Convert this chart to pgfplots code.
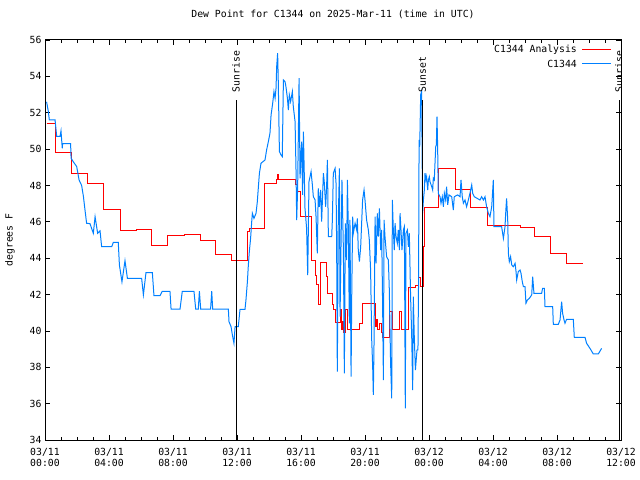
\documentclass[border=0pt]{standalone}
\usepackage{fontspec}
\setmainfont{DejaVu Sans Mono}
\usepackage{pgfplots}
\pgfplotsset{compat=1.18}
\definecolor{cblue}{RGB}{0,128,255}
\definecolor{cred}{RGB}{255,0,0}
\begin{document}
\begin{tikzpicture}[font=\fontsize{9.8bp}{11bp}\selectfont]
\path[use as bounding box] (0,0) rectangle (640bp,480bp);
\begin{axis}[
  at={(45bp,40bp)}, anchor=south west,
  width=576bp, height=400bp, scale only axis,
  xmin=0, xmax=36, ymin=34, ymax=56,
  xtick={0,4,...,36},
  xticklabels={03/11\\00:00,03/11\\04:00,03/11\\08:00,03/11\\12:00,03/11\\16:00,03/11\\20:00,03/12\\00:00,03/12\\04:00,03/12\\08:00,03/12\\12:00},
  xticklabel style={align=center, font=\fontsize{9.8bp}{11bp}\selectfont, yshift=-5bp},
  minor xtick={1,2,3,5,6,7,9,10,11,13,14,15,17,18,19,21,22,23,25,26,27,29,30,31,33,34,35},
  ytick={34,36,...,56},
  tick align=inside,
  major tick length=5bp, minor tick length=3bp,
  tick style={black, line width=0.8bp},
  axis line style={line width=1bp},
  /pgf/number format/assume math mode=true,
  title={Dew Point for C1344 on 2025-Mar-11 (time in UTC)},
  title style={at={(0.5,1)}, anchor=base, yshift=17bp},
  ylabel={degrees F},
  ylabel style={at={(axis description cs:-0.0608,0.5)}, anchor=center},
]
\addplot[draw=cred, line width=1bp, const plot] coordinates {
(0.10,51.42) (0.67,49.82) (1.67,48.67) (2.67,48.12) (3.65,46.70) (4.69,45.50)
(5.69,45.55) (6.67,44.70) (7.67,45.26) (8.69,45.30) (9.69,44.97) (10.67,44.21)
(11.65,43.85) (12.68,45.46) (12.81,45.64) (13.69,48.12) (14.44,48.34) (14.50,48.58)
(14.60,48.34) (15.67,48.03) (15.75,47.66) (15.94,46.28) (16.68,43.85) (16.90,43.02)
(16.98,42.53) (17.08,41.43) (17.19,43.77) (17.60,42.98) (17.68,42.03) (17.98,41.43)
(18.05,41.15) (18.15,40.46) (18.44,41.15) (18.52,40.05) (18.60,40.51) (18.68,39.90)
(18.78,41.15) (18.90,40.05) (19.68,40.42) (19.85,41.52) (20.65,40.23) (20.72,40.60)
(20.80,40.05) (20.90,40.40) (21.00,39.90) (21.10,39.63) (21.55,41.06) (21.73,40.10)
(22.15,41.06) (22.25,40.10) (22.70,42.38) (23.15,42.50) (23.35,42.93) (23.45,42.45)
(23.66,44.63) (23.72,46.79) (24.60,48.94) (25.67,47.75) (26.60,46.80) (27.65,45.77)
(29.70,45.70) (30.60,45.18) (31.60,44.27) (32.60,43.72) (33.60,43.72)
};

\addplot[draw=cblue, line width=1bp] coordinates {
(0.10,52.60) (0.21,52.06) (0.27,51.60) (0.63,51.60) (0.73,50.70) (0.94,50.70)
(1.00,51.00) (1.08,50.04) (1.10,50.30) (1.60,50.30) (1.63,49.50) (1.77,49.30)
(1.98,49.04) (2.13,48.30) (2.29,48.00) (2.40,47.40) (2.50,46.65) (2.60,45.92)
(2.81,45.90) (3.02,45.37) (3.13,46.28) (3.29,45.37) (3.44,45.50) (3.54,44.63)
(4.17,44.63) (4.27,44.87) (4.58,44.87) (4.65,43.63) (4.81,42.70) (5.00,43.86)
(5.15,42.89) (6.04,42.89) (6.15,41.98) (6.31,43.20) (6.71,43.20) (6.81,41.94)
(7.19,41.94) (7.33,42.18) (7.81,42.18) (7.88,41.20) (8.44,41.20) (8.58,42.18)
(9.31,42.18) (9.42,41.20) (9.58,41.20) (9.65,42.18) (9.73,41.20) (10.35,41.20)
(10.42,42.18) (10.48,41.20) (11.46,41.20) (11.50,40.51) (11.63,40.23) (11.71,39.78)
(11.81,39.32) (11.88,40.23) (12.08,40.23) (12.19,41.19) (12.50,41.19) (12.56,41.70)
(12.65,42.71) (12.71,43.63) (12.77,44.36) (12.85,45.09) (12.92,46.01) (12.96,46.47)
(13.06,46.19) (13.19,46.47) (13.27,47.11) (13.33,47.84) (13.40,48.67) (13.50,49.22)
(13.75,49.40) (13.85,49.95) (13.96,50.41) (14.06,50.87) (14.13,51.88) (14.23,52.52)
(14.31,53.16) (14.38,52.80) (14.44,53.35) (14.48,54.53) (14.54,55.27) (14.58,53.71)
(14.65,49.86) (14.75,49.68) (14.83,49.59) (14.90,53.80) (15.00,53.71) (15.06,53.43)
(15.15,52.80) (15.21,52.15) (15.27,52.98) (15.35,52.61) (15.46,53.16) (15.52,52.33)
(15.63,51.51) (15.69,48.76) (15.73,46.10) (15.79,47.84) (15.88,53.90) (15.94,48.39)
(16.04,50.41) (16.10,47.48) (16.15,50.96) (16.25,46.74) (16.35,45.64) (16.42,43.07)
(16.50,48.21) (16.63,48.76) (16.71,48.03) (16.77,47.39) (16.88,47.20) (16.94,46.28)
(17.02,44.27) (17.08,47.84) (17.15,46.83) (17.23,47.75) (17.29,46.01) (17.40,48.67)
(17.46,48.12) (17.54,46.83) (17.60,47.93) (17.65,49.40) (17.71,45.18) (17.92,45.18)
(17.96,46.10) (18.02,48.67) (18.13,48.94) (18.19,48.12) (18.23,44.45) (18.27,37.76)
(18.33,46.10) (18.40,48.94) (18.44,40.78) (18.50,44.63) (18.56,48.30) (18.65,44.45)
(18.71,37.67) (18.77,45.92) (18.85,43.90) (18.90,48.30) (18.96,45.55) (19.02,40.42)
(19.06,46.10) (19.13,37.48) (19.17,41.88) (19.23,46.28) (19.27,45.37) (19.38,45.92)
(19.48,45.55) (19.52,46.19) (19.58,44.45) (19.65,43.81) (19.73,44.63) (19.79,45.92)
(19.85,47.20) (19.94,47.75) (20.00,47.20) (20.10,46.10) (20.21,45.55) (20.27,45.00)
(20.35,43.35) (20.42,39.50) (20.48,38.03) (20.52,36.48) (20.56,38.95) (20.63,46.28)
(20.69,43.72) (20.77,46.47) (20.83,45.18) (20.90,46.74) (20.98,44.45) (21.04,45.55)
(21.10,41.52) (21.15,37.30) (21.19,46.10) (21.25,45.18) (21.35,44.08) (21.46,43.90)
(21.52,42.25) (21.60,38.22) (21.67,36.29) (21.71,47.20) (21.77,45.55) (21.83,44.45)
(21.88,45.92) (21.94,45.18) (22.02,44.82) (22.08,45.55) (22.15,44.45) (22.19,46.47)
(22.25,45.55) (22.31,44.45) (22.40,45.55) (22.46,45.73) (22.52,35.74) (22.56,45.37)
(22.65,45.55) (22.71,44.63) (22.77,45.37) (22.85,41.88) (22.92,39.68) (22.98,36.75)
(23.02,41.88) (23.08,39.68) (23.15,37.85) (23.25,38.95) (23.31,38.95) (23.35,42.98)
(23.38,50.50) (23.42,50.13) (23.48,53.00) (23.54,53.16) (23.60,46.47) (23.65,47.20)
(23.71,47.75) (23.75,48.67) (23.81,48.30) (23.85,48.48) (23.92,47.75) (23.96,48.30)
(24.02,48.48) (24.06,48.21) (24.17,47.93) (24.23,47.75) (24.27,48.39) (24.33,48.30)
(24.42,50.13) (24.46,50.23) (24.50,51.78) (24.54,50.13) (24.58,47.57) (24.69,47.38)
(24.75,47.02) (24.83,47.38) (24.90,46.83) (24.96,47.57) (25.04,47.20) (25.10,47.93)
(25.17,46.93) (25.25,47.48) (25.42,47.38) (25.52,46.65) (25.58,47.38) (25.79,47.48)
(25.94,47.38) (26.00,48.30) (26.08,47.38) (26.15,47.02) (26.25,47.20) (26.35,46.83)
(26.46,47.20) (26.56,47.57) (26.67,48.03) (26.73,47.57) (26.83,47.38) (27.19,47.20)
(27.29,47.38) (27.40,47.20) (27.50,47.38) (27.60,46.83) (27.71,46.47) (27.81,46.28)
(27.92,46.83) (28.02,48.30) (28.06,45.73) (28.54,45.73) (28.65,45.09) (28.75,45.73)
(28.81,46.74) (28.85,47.29) (28.92,46.10) (28.96,44.27) (29.02,43.81) (29.10,44.08)
(29.17,43.63) (29.27,43.53) (29.38,43.72) (29.44,43.26) (29.48,42.80) (29.58,43.26)
(29.69,43.35) (29.75,43.17) (29.83,42.71) (29.90,42.43) (30.00,42.43) (30.06,41.52)
(30.15,41.70) (30.27,41.79) (30.42,41.98) (30.48,42.98) (30.56,42.07) (31.04,42.07)
(31.10,42.34) (31.21,42.34) (31.25,41.33) (31.73,41.33) (31.77,40.36) (32.08,40.36)
(32.19,40.60) (32.29,41.61) (32.35,40.97) (32.44,40.60) (32.50,40.42) (32.60,40.64)
(33.02,40.64) (33.08,39.65) (33.75,39.65) (33.85,39.32) (34.06,39.04) (34.27,38.73)
(34.58,38.73) (34.79,39.04)
};

\addplot[draw=black, line width=1bp, forget plot] coordinates {(11.94,34) (11.94,52.7)};
\addplot[draw=black, line width=1bp, forget plot] coordinates {(23.58,34) (23.58,52.7)};
\addplot[draw=black, line width=1bp, forget plot] coordinates {(35.875,34) (35.875,52.7)};
\node[rotate=90, anchor=west, inner sep=0.5bp] at (axis cs:11.94,53.1) {Sunrise};
\node[rotate=90, anchor=west, inner sep=0.5bp] at (axis cs:23.58,53.1) {Sunset};
\node[rotate=90, anchor=west, inner sep=0.5bp] at (axis cs:35.875,53.1) {Sunrise};
\end{axis}
% legend
\node[anchor=east, inner sep=0pt] at (577bp,430bp) {C1344 Analysis};
\draw[draw=cred, line width=1bp] (582bp,430bp) -- (611bp,430bp);
\node[anchor=east, inner sep=0pt] at (577bp,416bp) {C1344};
\draw[draw=cblue, line width=1bp] (582bp,416bp) -- (611bp,416bp);
\end{tikzpicture}
\end{document}
